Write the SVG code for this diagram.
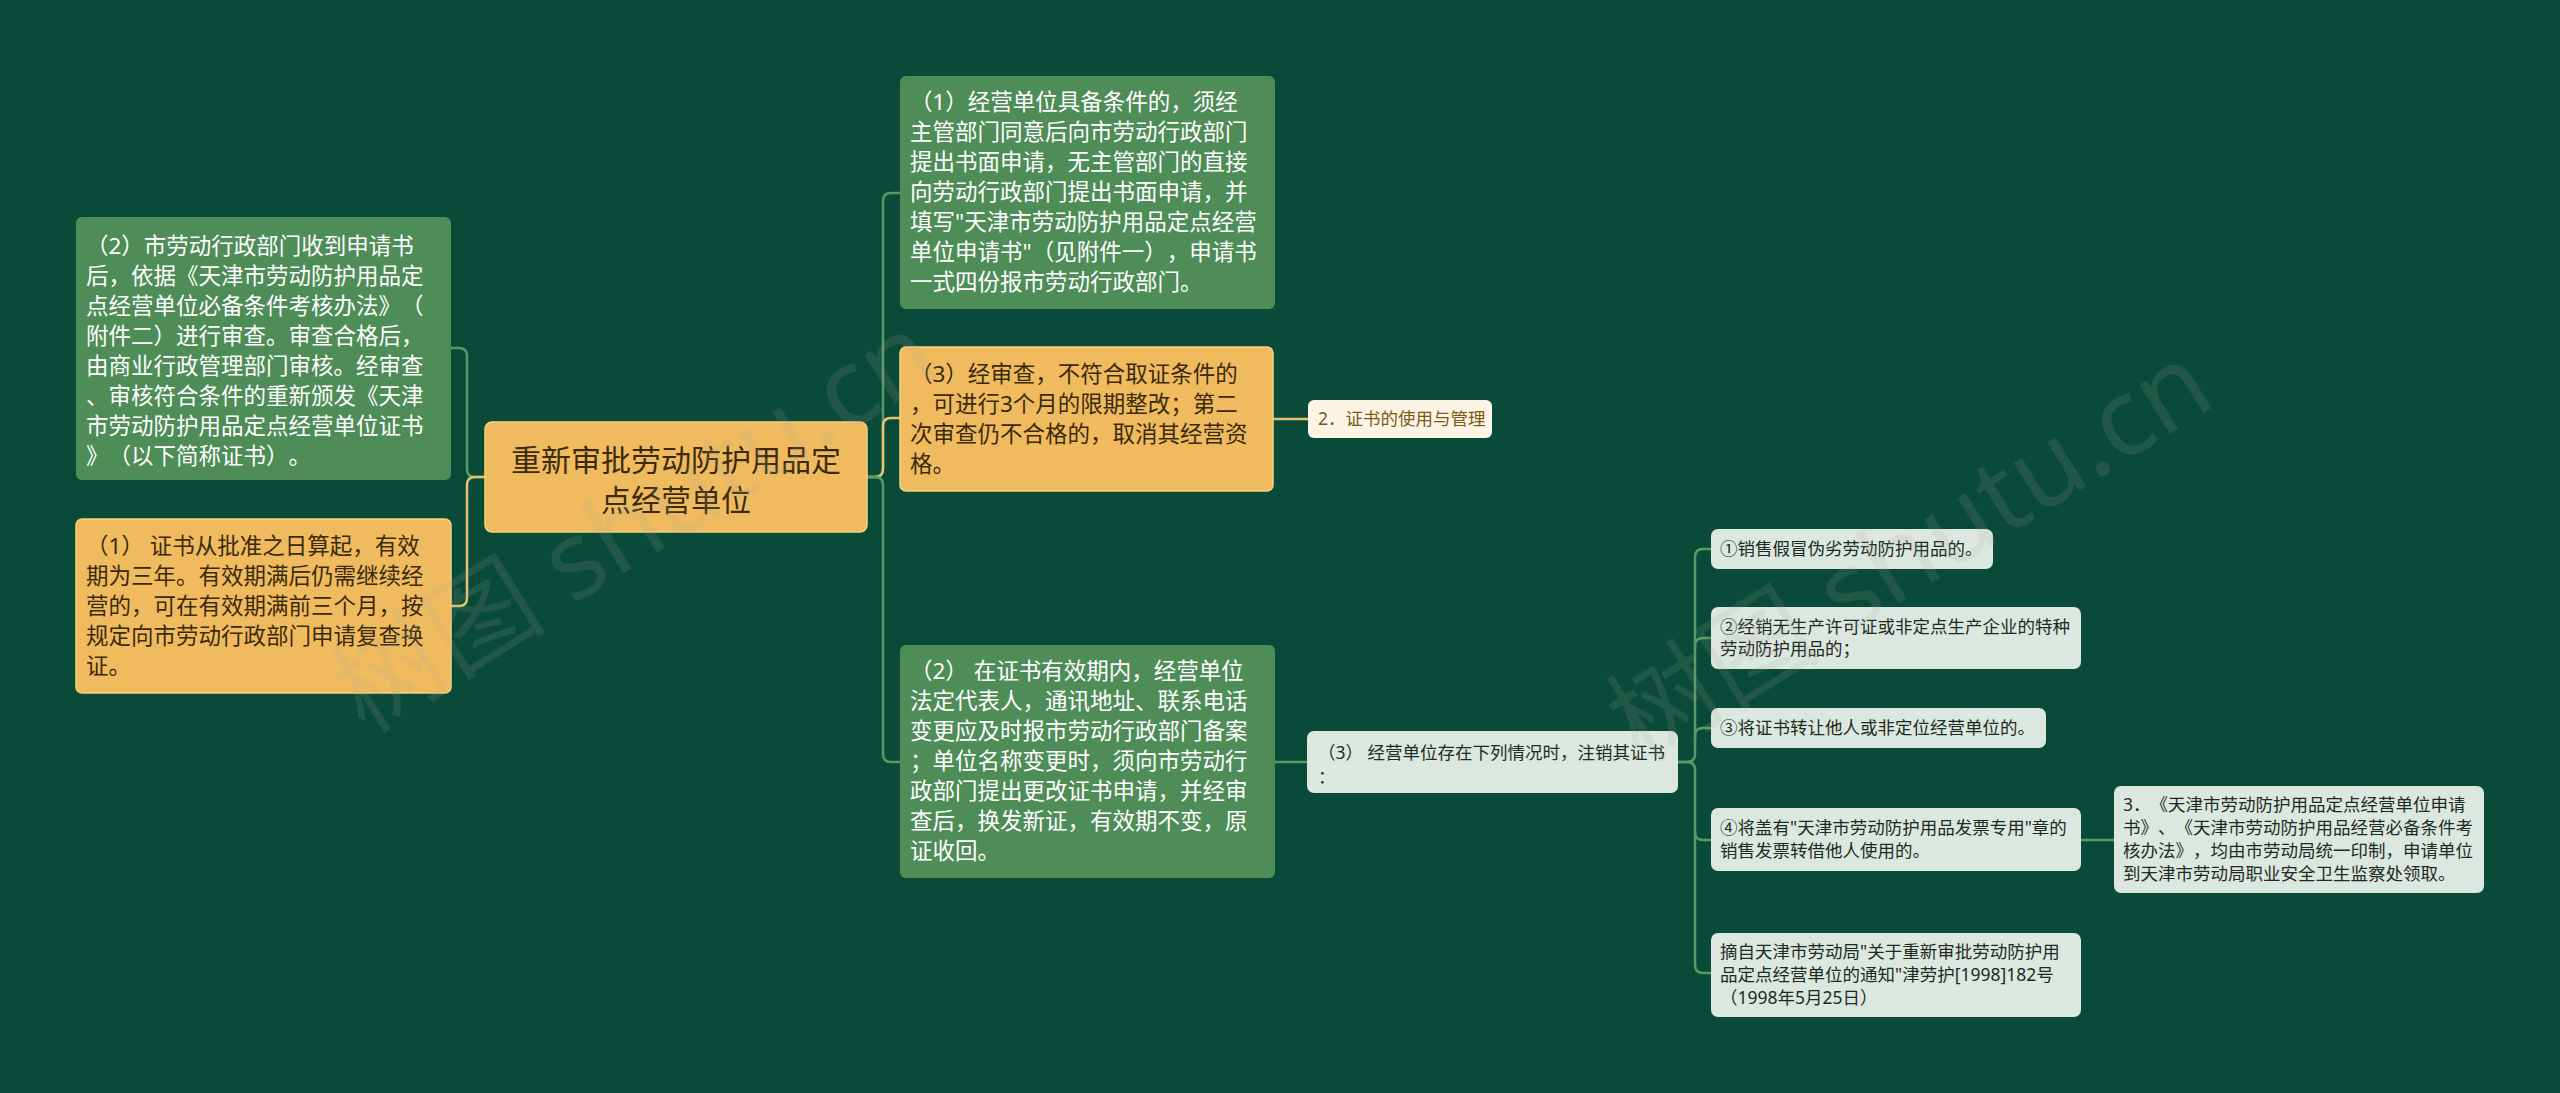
<svg xmlns="http://www.w3.org/2000/svg" width="2560" height="1093" viewBox="0 0 2560 1093">
<style>
text{font-family:"Noto Sans","Noto Sans CJK SC",sans-serif;text-spacing-trim:space-all;}
.g rect{fill:#4f8d58;}
.g text{fill:#ffffff;font-size:22.5px;}
.o rect{fill:#f0bb5f;stroke:#f6d27f;stroke-width:1.5;}
.o text{fill:#3b2a0c;font-size:22.5px;}
.l rect{fill:#dce8df;}
.l text{fill:#1f2a22;font-size:17.5px;}
.lab rect{fill:#fcf4e4;}
.lab text{fill:#7b5a16;font-size:17.5px;}
.cg{fill:none;stroke:#559c63;stroke-width:2.5;}
.cy{fill:none;stroke:#e6c36f;stroke-width:2.5;}
.wm{font-size:108px;fill:#a9a999;opacity:0.14;}
</style>
<rect width="2560" height="1093" fill="#094a39"/>

<g id="connectors">
  <path class="cg" d="M485,477 H475 Q467,477 467,469 V356 Q467,348 459,348 H451"/>
  <path class="cy" d="M485,477 H475 Q467,477 467,485 V598 Q467,606 459,606 H451"/>
  <path class="cg" d="M867,477 H875 Q883,477 883,469 V201 Q883,193 891,193 H900"/>
  <path class="cy" d="M867,477 H875 Q883,477 883,469 V426 Q883,418 891,418 H900"/>
  <path class="cg" d="M867,477 H875 Q883,477 883,485 V754 Q883,762 891,762 H900"/>
  <path class="cy" d="M1273,419 H1308"/>
  <path class="cg" d="M1275,762 H1307"/>
  <path class="cg" d="M1678,762 H1687 Q1695,762 1695,754 V557 Q1695,549 1703,549 H1711"/>
  <path class="cg" d="M1695,650 V646 Q1695,638 1703,638 H1711"/>
  <path class="cg" d="M1695,740 V736 Q1695,728 1703,728 H1711"/>
  <path class="cg" d="M1678,762 H1687 Q1695,762 1695,770 V965 Q1695,973 1703,973 H1711"/>
  <path class="cg" d="M1695,830 V832 Q1695,840 1703,840 H1711"/>
  <path class="cg" d="M2081,840 H2114"/>
</g>

<g id="root" class="o">
  <rect x="485" y="422" width="382" height="110" rx="7"/>
  <text x="676" text-anchor="middle" style="font-size:30px"><tspan x="676" y="471">重新审批劳动防护用品定</tspan><tspan x="676" y="511">点经营单位</tspan></text>
</g>

<g id="left1" class="g">
  <rect x="76" y="217" width="375" height="263" rx="6"/>
  <text><tspan x="86" y="254">（2）市劳动行政部门收到申请书</tspan><tspan x="86" y="284">后，依据《天津市劳动防护用品定</tspan><tspan x="86" y="314">点经营单位必备条件考核办法》（</tspan><tspan x="86" y="344">附件二）进行审查。审查合格后，</tspan><tspan x="86" y="374">由商业行政管理部门审核。经审查</tspan><tspan x="86" y="404">、审核符合条件的重新颁发《天津</tspan><tspan x="86" y="434">市劳动防护用品定点经营单位证书</tspan><tspan x="86" y="464">》（以下简称证书）。</tspan></text>
</g>

<g id="left2" class="o">
  <rect x="76" y="519" width="375" height="174" rx="6"/>
  <text><tspan x="86" y="554">（1） 证书从批准之日算起，有效</tspan><tspan x="86" y="584">期为三年。有效期满后仍需继续经</tspan><tspan x="86" y="614">营的，可在有效期满前三个月，按</tspan><tspan x="86" y="644">规定向市劳动行政部门申请复查换</tspan><tspan x="86" y="674">证。</tspan></text>
</g>

<g id="right1" class="g">
  <rect x="900" y="76" width="375" height="233" rx="6"/>
  <text><tspan x="910" y="110">（1）经营单位具备条件的，须经</tspan><tspan x="910" y="140">主管部门同意后向市劳动行政部门</tspan><tspan x="910" y="170">提出书面申请，无主管部门的直接</tspan><tspan x="910" y="200">向劳动行政部门提出书面申请，并</tspan><tspan x="910" y="230">填写"天津市劳动防护用品定点经营</tspan><tspan x="910" y="260">单位申请书"（见附件一），申请书</tspan><tspan x="910" y="290">一式四份报市劳动行政部门。</tspan></text>
</g>

<g id="right2" class="o">
  <rect x="900" y="347" width="373" height="144" rx="6"/>
  <text><tspan x="910" y="382">（3）经审查，不符合取证条件的</tspan><tspan x="910" y="412">，可进行3个月的限期整改；第二</tspan><tspan x="910" y="442">次审查仍不合格的，取消其经营资</tspan><tspan x="910" y="472">格。</tspan></text>
</g>

<g id="label2" class="lab">
  <rect x="1308" y="400" width="184" height="38" rx="6"/>
  <text x="1318" y="425">2．证书的使用与管理</text>
</g>

<g id="right3" class="g">
  <rect x="900" y="645" width="375" height="233" rx="6"/>
  <text><tspan x="910" y="679">（2） 在证书有效期内，经营单位</tspan><tspan x="910" y="709">法定代表人，通讯地址、联系电话</tspan><tspan x="910" y="739">变更应及时报市劳动行政部门备案</tspan><tspan x="910" y="769">；单位名称变更时，须向市劳动行</tspan><tspan x="910" y="799">政部门提出更改证书申请，并经审</tspan><tspan x="910" y="829">查后，换发新证，有效期不变，原</tspan><tspan x="910" y="859">证收回。</tspan></text>
</g>

<g id="cancel" class="l">
  <rect x="1307" y="731" width="371" height="62" rx="7"/>
  <text><tspan x="1318" y="759">（3） 经营单位存在下列情况时，注销其证书</tspan><tspan x="1318" y="783">：</tspan></text>
</g>

<g id="item1" class="l">
  <rect x="1711" y="529" width="282" height="40" rx="7"/>
  <text x="1720" y="555">①销售假冒伪劣劳动防护用品的。</text>
</g>

<g id="item2" class="l">
  <rect x="1711" y="607" width="370" height="62" rx="7"/>
  <text><tspan x="1720" y="633">②经销无生产许可证或非定点生产企业的特种</tspan><tspan x="1720" y="655">劳动防护用品的；</tspan></text>
</g>

<g id="item3" class="l">
  <rect x="1711" y="708" width="335" height="40" rx="7"/>
  <text x="1720" y="734">③将证书转让他人或非定位经营单位的。</text>
</g>

<g id="item4" class="l">
  <rect x="1711" y="808" width="370" height="63" rx="7"/>
  <text><tspan x="1720" y="834">④将盖有"天津市劳动防护用品发票专用"章的</tspan><tspan x="1720" y="857">销售发票转借他人使用的。</tspan></text>
</g>

<g id="source" class="l">
  <rect x="1711" y="933" width="370" height="84" rx="7"/>
  <text><tspan x="1720" y="958">摘自天津市劳动局"关于重新审批劳动防护用</tspan><tspan x="1720" y="981">品定点经营单位的通知"津劳护[1998]182号</tspan><tspan x="1720" y="1004">（1998年5月25日）</tspan></text>
</g>

<g id="note3" class="l">
  <rect x="2114" y="786" width="370" height="107" rx="7"/>
  <text><tspan x="2123" y="811">3．《天津市劳动防护用品定点经营单位申请</tspan><tspan x="2123" y="834">书》、《天津市劳动防护用品经营必备条件考</tspan><tspan x="2123" y="857">核办法》，均由市劳动局统一印制，申请单位</tspan><tspan x="2123" y="880">到天津市劳动局职业安全卫生监察处领取。</tspan></text>
</g>

<g id="watermark">
  <text class="wm" x="365" y="735" transform="rotate(-32 365 735)">树图 shutu.cn</text>
  <text class="wm" x="1640" y="765" transform="rotate(-32 1640 765)">树图 shutu.cn</text>
</g>
</svg>
